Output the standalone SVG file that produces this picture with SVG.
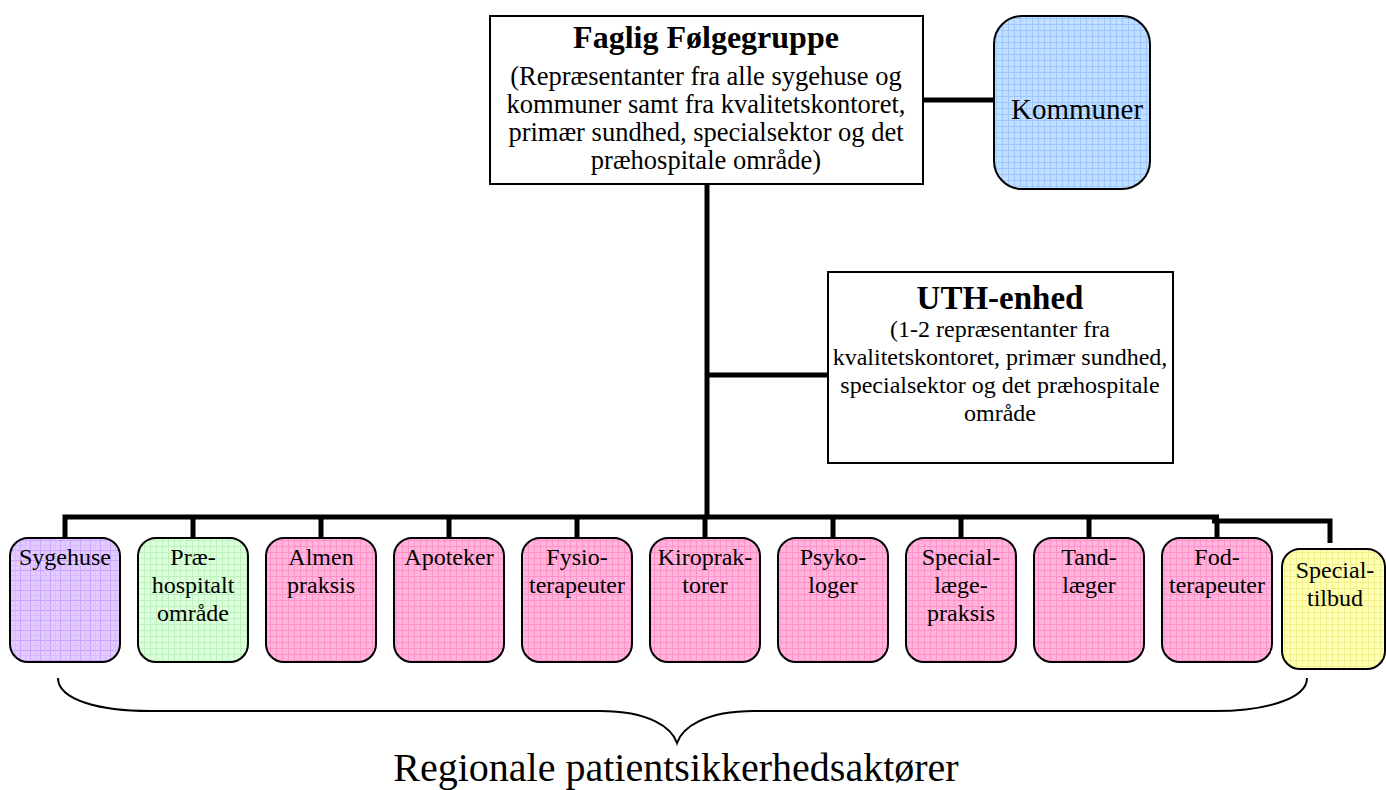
<svg xmlns="http://www.w3.org/2000/svg" width="1386" height="790" viewBox="0 0 1386 790">
<defs>
<pattern id="pPurple" width="10" height="10" patternUnits="userSpaceOnUse"><rect width="10" height="10" fill="#e2ccff"/><path d="M0,0.5H10M0.5,0V10" stroke="#c9a3ff" stroke-width="1"/><path d="M0,5.5H10M5.5,0V10" stroke="#d8bcff" stroke-width="1"/></pattern>
<pattern id="pGreen" width="6" height="6" patternUnits="userSpaceOnUse"><rect width="6" height="6" fill="#dcffdc"/><path d="M0,0.5H6M0.5,0V6" stroke="#bff0bf" stroke-width="1"/></pattern>
<pattern id="pPink" width="6" height="6" patternUnits="userSpaceOnUse"><rect width="6" height="6" fill="#ffb6dc"/><path d="M0,0.5H6M0.5,0V6" stroke="#ff92c9" stroke-width="1"/></pattern>
<pattern id="pYellow" width="6" height="6" patternUnits="userSpaceOnUse"><rect width="6" height="6" fill="#ffffb8"/><path d="M0,0.5H6M0.5,0V6" stroke="#f2f08a" stroke-width="1"/></pattern>
<pattern id="pBlue" width="6" height="6" patternUnits="userSpaceOnUse"><rect width="6" height="6" fill="#c2dfff"/><path d="M0,0.5H6M0.5,0V6" stroke="#9dc8ff" stroke-width="1"/></pattern>
</defs>
<style>
text{font-family:"Liberation Serif","Times New Roman",serif;fill:#000;text-anchor:middle}
.title{font-size:32px;font-weight:bold}
.body{font-size:26.5px}
.ubody{font-size:24px}
.small{font-size:24px}
.box{fill:#fff;stroke:#000;stroke-width:2}
.rbox{stroke:#000;stroke-width:2}
.conn{fill:none;stroke:#000;stroke-width:5}
.brace{fill:none;stroke:#000;stroke-width:2}
</style>

<g id="connectors">
<path class="conn" d="M923,100H994"/>
<path class="conn" d="M707,184V517" stroke-width="6"/>
<path class="conn" d="M707,375H828"/>
<path class="conn" d="M65,538V517H1219"/>
<path class="conn" d="M1212,521H1330V543"/>
<path class="conn" d="M193,517V538M321,517V538M449,517V538M577,517V538M705,517V538M833,517V538M961,517V538M1089,517V538M1217,521V538"/>
</g>

<g id="faglig">
<rect class="box" x="490" y="16" width="433" height="168"/>
<text class="title" x="706" y="48">Faglig Følgegruppe</text>
<text class="body" x="706" y="85">(Repræsentanter fra alle sygehuse og</text>
<text class="body" x="706" y="113">kommuner samt fra kvalitetskontoret,</text>
<text class="body" x="706" y="141">primær sundhed, specialsektor og det</text>
<text class="body" x="706" y="169">præhospitale område)</text>
</g>

<g id="kommuner">
<rect class="rbox" x="994" y="16" width="156" height="173" rx="28" fill="url(#pBlue)"/>
<text x="1077" y="119" style="font-size:29px">Kommuner</text>
</g>

<g id="uth">
<rect class="box" x="828" y="272" width="345" height="191"/>
<text class="title" x="1000" y="309" style="font-size:33px">UTH-enhed</text>
<text class="ubody" x="1000" y="337">(1-2 repræsentanter fra</text>
<text class="ubody" x="1000" y="365">kvalitetskontoret, primær sundhed,</text>
<text class="ubody" x="1000" y="393">specialsektor og det præhospitale</text>
<text class="ubody" x="1000" y="421">område</text>
</g>

<g id="sygehuse">
<rect class="rbox" x="10" y="538" width="110" height="124" rx="18" fill="url(#pPurple)"/>
<text class="small" x="65" y="565">Sygehuse</text>
</g>
<g id="praehospitalt">
<rect class="rbox" x="138" y="538" width="110" height="124" rx="18" fill="url(#pGreen)"/>
<text class="small" x="193" y="565">Præ-</text>
<text class="small" x="193" y="593">hospitalt</text>
<text class="small" x="193" y="621">område</text>
</g>
<g id="almen">
<rect class="rbox" x="266" y="538" width="110" height="124" rx="18" fill="url(#pPink)"/>
<text class="small" x="321" y="565">Almen</text>
<text class="small" x="321" y="593">praksis</text>
</g>
<g id="apoteker">
<rect class="rbox" x="394" y="538" width="110" height="124" rx="18" fill="url(#pPink)"/>
<text class="small" x="449" y="565">Apoteker</text>
</g>
<g id="fysio">
<rect class="rbox" x="522" y="538" width="110" height="124" rx="18" fill="url(#pPink)"/>
<text class="small" x="577" y="565">Fysio-</text>
<text class="small" x="577" y="593">terapeuter</text>
</g>
<g id="kiro">
<rect class="rbox" x="650" y="538" width="110" height="124" rx="18" fill="url(#pPink)"/>
<text class="small" x="705" y="565">Kiroprak-</text>
<text class="small" x="705" y="593">torer</text>
</g>
<g id="psyko">
<rect class="rbox" x="778" y="538" width="110" height="124" rx="18" fill="url(#pPink)"/>
<text class="small" x="833" y="565">Psyko-</text>
<text class="small" x="833" y="593">loger</text>
</g>
<g id="speciallaege">
<rect class="rbox" x="906" y="538" width="110" height="124" rx="18" fill="url(#pPink)"/>
<text class="small" x="961" y="565">Special-</text>
<text class="small" x="961" y="593">læge-</text>
<text class="small" x="961" y="621">praksis</text>
</g>
<g id="tand">
<rect class="rbox" x="1034" y="538" width="110" height="124" rx="18" fill="url(#pPink)"/>
<text class="small" x="1089" y="565">Tand-</text>
<text class="small" x="1089" y="593">læger</text>
</g>
<g id="fod">
<rect class="rbox" x="1162" y="538" width="110" height="124" rx="18" fill="url(#pPink)"/>
<text class="small" x="1217" y="565">Fod-</text>
<text class="small" x="1217" y="593">terapeuter</text>
</g>
<g id="specialtilbud">
<rect class="rbox" x="1282" y="549" width="103" height="120" rx="18" fill="url(#pYellow)"/>
<text class="small" x="1335" y="578">Special-</text>
<text class="small" x="1335" y="606">tilbud</text>
</g>

<g id="brace">
<path class="brace" d="M58,678C58,700 100,711 150,711H600C650,711 672,728 677,743C682,728 704,711 754,711H1215C1262,711 1307,700 1307,678"/>
<text x="676" y="781" style="font-size:40px">Regionale patientsikkerhedsaktører</text>
</g>
</svg>
